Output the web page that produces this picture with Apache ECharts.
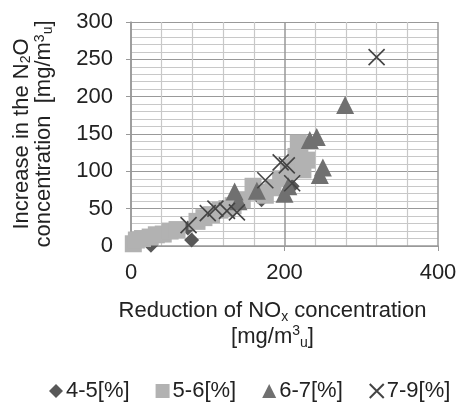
<!DOCTYPE html>
<html>
<head>
<meta charset="utf-8">
<script src="https://cdn.jsdelivr.net/npm/echarts@6/dist/echarts.min.js"></script>
<style>
  html, body { margin: 0; padding: 0; background: #fff; }
</style>
</head>
<body>
<div id="main" style="width: 462px; height: 403px"></div>
<script>
// series names (legend)
const seriesNames = ['4-5[%]', '5-6[%]', '6-7[%]', '7-9[%]']

// [NOx reduction, N2O increase]
const data45 = [[26, 1], [74, 24], [79, 8], [170, 62], [200, 95], [210, 80]]
const data56 = [
  [3, 3], [7, 8], [15, 10], [25, 12], [33, 15], [42, 16], [51, 20], [60, 22],
  [86, 33], [95, 38], [105, 42], [116, 48], [125, 50], [133, 54], [145, 62],
  [159, 80], [165, 72], [175, 68], [185, 78], [195, 90], [205, 100], [211, 106],
  [215, 120], [220, 128], [224, 102], [229, 115], [218, 138]
]
const data67 = [
  [135, 73], [140, 60], [164, 74], [200, 70], [205, 80], [233, 142],
  [242, 146], [246, 95], [250, 105], [279, 189]
]
const data79 = [
  [75, 28], [100, 44], [110, 50], [125, 47], [138, 45], [175, 88],
  [195, 112], [203, 108], [210, 84], [320, 253]
]

const xTicks = { min: 0, max: 400, interval: 200 }
const yTicks = { min: 0, max: 300, interval: 50 }

const font = 'Liberation Sans, Arial, sans-serif'
const txt = '#222'
const richX = {
  t: { fontSize: 22, lineHeight: 26, color: txt, fontFamily: font },
  s: { fontSize: 14, lineHeight: 11, verticalAlign: 'bottom', color: txt, fontFamily: font },
  p: { fontSize: 14, lineHeight: 11, verticalAlign: 'top', color: txt, fontFamily: font }
}
const richY = {
  t: { fontSize: 22, lineHeight: 22, color: txt, fontFamily: font },
  s: { fontSize: 14, lineHeight: 9, verticalAlign: 'bottom', color: txt, fontFamily: font },
  p: { fontSize: 14, lineHeight: 9, verticalAlign: 'top', color: txt, fontFamily: font }
}

const crossPath = 'path://M0,0L10,10M10,0L0,10'

const chart = echarts.init(document.getElementById('main'))
chart.setOption({
  animation: false,
  textStyle: { fontFamily: font },
  grid: { left: 131, right: 24, top: 22, bottom: 157 },
  xAxis: {
    type: 'value',
    min: xTicks.min, max: xTicks.max, interval: xTicks.interval,
    axisLine: { show: true, lineStyle: { color: '#999', width: 1.5 } },
    axisTick: { show: true, length: 5, lineStyle: { color: '#999' } },
    axisLabel: { fontSize: 22, color: txt, margin: 16, fontFamily: font },
    splitLine: { show: true, lineStyle: { color: '#999', width: 1.5 } },
    minorTick: { show: false, splitNumber: 5 },
    minorSplitLine: { show: true, lineStyle: { color: '#c8c8c8', width: 1.2 } },
    name: '{t|Reduction of NO}{s|x}{t| concentration}\n{t|[mg/m}{p|3}{s|u}{t|]}',
    nameLocation: 'middle',
    nameGap: 52,
    nameTextStyle: { rich: richX, padding: [0, 24, 0, 0] }
  },
  yAxis: {
    type: 'value',
    min: yTicks.min, max: yTicks.max, interval: yTicks.interval,
    axisLine: { show: true, lineStyle: { color: '#999', width: 1.5 } },
    axisTick: { show: true, length: 5, lineStyle: { color: '#999' } },
    axisLabel: { fontSize: 22, color: txt, margin: 18, fontFamily: font },
    splitLine: { show: true, lineStyle: { color: '#999', width: 1.2 } },
    minorTick: { show: false, splitNumber: 5 },
    minorSplitLine: { show: true, lineStyle: { color: '#c8c8c8', width: 1.2 } },
    name: '{t|Increase in the N}{s|2}{t|O}\n{t|concentration  [mg/m}{p|3}{s|u}{t|]}',
    nameLocation: 'middle',
    nameGap: 76,
    nameTextStyle: { rich: richY }
  },
  legend: {
    top: 375,
    left: 44,
    itemGap: 26,
    itemWidth: 14,
    itemHeight: 14,
    textStyle: { fontSize: 22, color: txt, fontFamily: font, padding: [0, 0, 0, -2] },
    data: seriesNames
  },
  series: [
    {
      name: seriesNames[0], type: 'scatter', data: data45,
      symbol: 'diamond', symbolSize: 15,
      itemStyle: { color: '#585858', opacity: 1 }
    },
    {
      name: seriesNames[1], type: 'scatter', data: data56,
      symbol: 'rect', symbolSize: 17,
      itemStyle: { color: '#b2b2b2', opacity: 1 }
    },
    {
      name: seriesNames[2], type: 'scatter', data: data67,
      symbol: 'triangle', symbolSize: 18,
      itemStyle: { color: '#707070', opacity: 1 }
    },
    {
      name: seriesNames[3], type: 'scatter', data: data79,
      symbol: crossPath, symbolSize: 16,
      itemStyle: { color: 'transparent', borderColor: '#444', borderWidth: 1.6, opacity: 1 }
    }
  ]
})
</script>
</body>
</html>
